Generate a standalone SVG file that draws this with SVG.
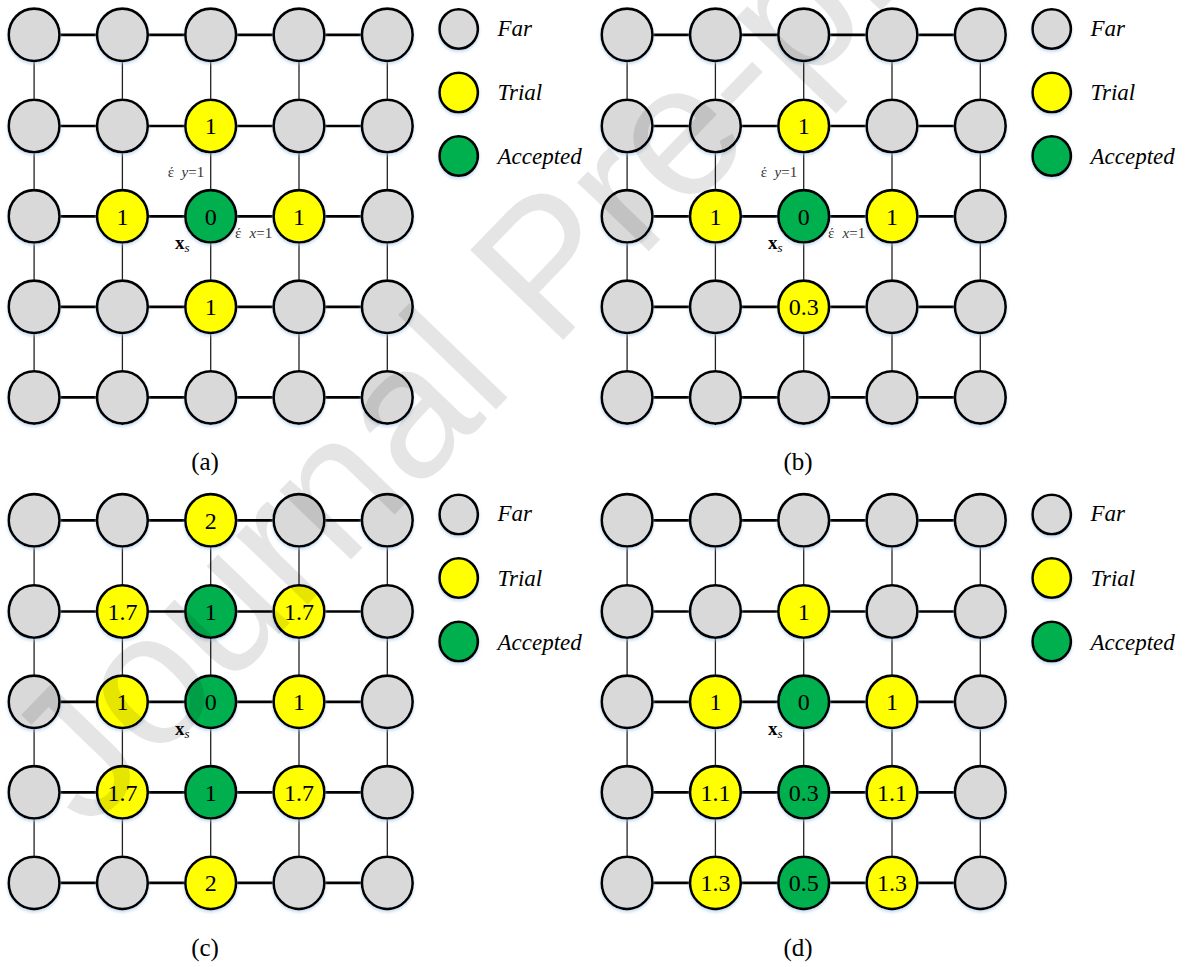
<svg xmlns="http://www.w3.org/2000/svg" width="1185" height="967" viewBox="0 0 1185 967">
<defs>
<filter id="sh" x="-30%" y="-30%" width="160%" height="170%">
<feDropShadow dx="0" dy="2" stdDeviation="1.5" flood-color="#9dc3e6" flood-opacity="0.55"/>
</filter>
<style>
ellipse{stroke:#000;stroke-width:2.6;filter:url(#sh)}
.far ellipse{fill:#d9d9d9}
.trial ellipse{fill:#ffff00}
.acc ellipse{fill:#00b050}
.lbl{font-family:"Liberation Serif","Times New Roman",serif;font-size:24px;text-anchor:middle;fill:#000}
.h{stroke:#000;stroke-width:2.7}
.v{stroke:#222;stroke-width:1.3}
.leg{font-family:"Liberation Serif","Times New Roman",serif;font-style:italic;font-size:23px;fill:#000}
.cap{font-family:"Liberation Serif","Times New Roman",serif;font-size:25px;text-anchor:middle;fill:#000}
.eps{font-family:"Liberation Serif","Times New Roman",serif;font-size:15px;fill:#333}
.xs{font-family:"Liberation Serif","Times New Roman",serif;font-size:19px;font-weight:bold;fill:#000}
.wm{font-family:"Liberation Sans",Arial,sans-serif;font-size:188px;fill:#000;fill-opacity:0.1}
</style>
</defs>
<rect width="1185" height="967" fill="#fff"/>

<g id="connectors">
<g transform="translate(0,0)">
<line class="h" x1="34.1" y1="34.8" x2="387.3" y2="34.8"/><line class="h" x1="34.1" y1="126" x2="387.3" y2="126"/><line class="h" x1="34.1" y1="216.3" x2="387.3" y2="216.3"/><line class="h" x1="34.1" y1="306.8" x2="387.3" y2="306.8"/><line class="h" x1="34.1" y1="397.4" x2="387.3" y2="397.4"/>
<line class="v" x1="34.1" y1="34.8" x2="34.1" y2="397.4"/><line class="v" x1="122.4" y1="34.8" x2="122.4" y2="397.4"/><line class="v" x1="210.7" y1="34.8" x2="210.7" y2="397.4"/><line class="v" x1="299" y1="34.8" x2="299" y2="397.4"/><line class="v" x1="387.3" y1="34.8" x2="387.3" y2="397.4"/>
</g>
<g transform="translate(593,0)">
<line class="h" x1="34.1" y1="34.8" x2="387.3" y2="34.8"/><line class="h" x1="34.1" y1="126" x2="387.3" y2="126"/><line class="h" x1="34.1" y1="216.3" x2="387.3" y2="216.3"/><line class="h" x1="34.1" y1="306.8" x2="387.3" y2="306.8"/><line class="h" x1="34.1" y1="397.4" x2="387.3" y2="397.4"/>
<line class="v" x1="34.1" y1="34.8" x2="34.1" y2="397.4"/><line class="v" x1="122.4" y1="34.8" x2="122.4" y2="397.4"/><line class="v" x1="210.7" y1="34.8" x2="210.7" y2="397.4"/><line class="v" x1="299" y1="34.8" x2="299" y2="397.4"/><line class="v" x1="387.3" y1="34.8" x2="387.3" y2="397.4"/>
</g>
<g transform="translate(0,485.5)">
<line class="h" x1="34.1" y1="34.8" x2="387.3" y2="34.8"/><line class="h" x1="34.1" y1="126" x2="387.3" y2="126"/><line class="h" x1="34.1" y1="216.3" x2="387.3" y2="216.3"/><line class="h" x1="34.1" y1="306.8" x2="387.3" y2="306.8"/><line class="h" x1="34.1" y1="397.4" x2="387.3" y2="397.4"/>
<line class="v" x1="34.1" y1="34.8" x2="34.1" y2="397.4"/><line class="v" x1="122.4" y1="34.8" x2="122.4" y2="397.4"/><line class="v" x1="210.7" y1="34.8" x2="210.7" y2="397.4"/><line class="v" x1="299" y1="34.8" x2="299" y2="397.4"/><line class="v" x1="387.3" y1="34.8" x2="387.3" y2="397.4"/>
</g>
<g transform="translate(593,485.5)">
<line class="h" x1="34.1" y1="34.8" x2="387.3" y2="34.8"/><line class="h" x1="34.1" y1="126" x2="387.3" y2="126"/><line class="h" x1="34.1" y1="216.3" x2="387.3" y2="216.3"/><line class="h" x1="34.1" y1="306.8" x2="387.3" y2="306.8"/><line class="h" x1="34.1" y1="397.4" x2="387.3" y2="397.4"/>
<line class="v" x1="34.1" y1="34.8" x2="34.1" y2="397.4"/><line class="v" x1="122.4" y1="34.8" x2="122.4" y2="397.4"/><line class="v" x1="210.7" y1="34.8" x2="210.7" y2="397.4"/><line class="v" x1="299" y1="34.8" x2="299" y2="397.4"/><line class="v" x1="387.3" y1="34.8" x2="387.3" y2="397.4"/>
</g>
</g>

<!-- Panel (a) -->
<g id="panel-a" transform="translate(0,0)">
<g id="a-r1c1" class="far"><ellipse cx="34.1" cy="34.8" rx="25.4" ry="26.2"/></g>
<g id="a-r1c2" class="far"><ellipse cx="122.4" cy="34.8" rx="25.4" ry="26.2"/></g>
<g id="a-r1c3" class="far"><ellipse cx="210.7" cy="34.8" rx="25.4" ry="26.2"/></g>
<g id="a-r1c4" class="far"><ellipse cx="299" cy="34.8" rx="25.4" ry="26.2"/></g>
<g id="a-r1c5" class="far"><ellipse cx="387.3" cy="34.8" rx="25.4" ry="26.2"/></g>
<g id="a-r2c1" class="far"><ellipse cx="34.1" cy="126" rx="25.4" ry="26.2"/></g>
<g id="a-r2c2" class="far"><ellipse cx="122.4" cy="126" rx="25.4" ry="26.2"/></g>
<g id="a-r2c3" class="trial"><ellipse cx="210.7" cy="126" rx="25.4" ry="26.2"/><text class="lbl" x="210.7" y="134.2">1</text></g>
<g id="a-r2c4" class="far"><ellipse cx="299" cy="126" rx="25.4" ry="26.2"/></g>
<g id="a-r2c5" class="far"><ellipse cx="387.3" cy="126" rx="25.4" ry="26.2"/></g>
<g id="a-r3c1" class="far"><ellipse cx="34.1" cy="216.3" rx="25.4" ry="26.2"/></g>
<g id="a-r3c2" class="trial"><ellipse cx="122.4" cy="216.3" rx="25.4" ry="26.2"/><text class="lbl" x="122.4" y="224.5">1</text></g>
<g id="a-r3c3" class="acc"><ellipse cx="210.7" cy="216.3" rx="25.4" ry="26.2"/><text class="lbl" x="210.7" y="224.5">0</text></g>
<g id="a-r3c4" class="trial"><ellipse cx="299" cy="216.3" rx="25.4" ry="26.2"/><text class="lbl" x="299" y="224.5">1</text></g>
<g id="a-r3c5" class="far"><ellipse cx="387.3" cy="216.3" rx="25.4" ry="26.2"/></g>
<g id="a-r4c1" class="far"><ellipse cx="34.1" cy="306.8" rx="25.4" ry="26.2"/></g>
<g id="a-r4c2" class="far"><ellipse cx="122.4" cy="306.8" rx="25.4" ry="26.2"/></g>
<g id="a-r4c3" class="trial"><ellipse cx="210.7" cy="306.8" rx="25.4" ry="26.2"/><text class="lbl" x="210.7" y="315">1</text></g>
<g id="a-r4c4" class="far"><ellipse cx="299" cy="306.8" rx="25.4" ry="26.2"/></g>
<g id="a-r4c5" class="far"><ellipse cx="387.3" cy="306.8" rx="25.4" ry="26.2"/></g>
<g id="a-r5c1" class="far"><ellipse cx="34.1" cy="397.4" rx="25.4" ry="26.2"/></g>
<g id="a-r5c2" class="far"><ellipse cx="122.4" cy="397.4" rx="25.4" ry="26.2"/></g>
<g id="a-r5c3" class="far"><ellipse cx="210.7" cy="397.4" rx="25.4" ry="26.2"/></g>
<g id="a-r5c4" class="far"><ellipse cx="299" cy="397.4" rx="25.4" ry="26.2"/></g>
<g id="a-r5c5" class="far"><ellipse cx="387.3" cy="397.4" rx="25.4" ry="26.2"/></g>
<text class="eps" x="167.7" y="176.7">έ<tspan x="181.5" font-style="italic">y</tspan>=1</text>
<text class="eps" x="235" y="238.3">έ<tspan x="249.5" font-style="italic">x</tspan>=1</text>
<text class="xs" x="175" y="249">x<tspan font-style="italic" font-weight="normal" font-size="13" dy="3">s</tspan></text>
<g id="a-leg-far" class="far"><ellipse cx="458.7" cy="29" rx="19.2" ry="19.8"/><text class="leg" x="497.5" y="35.7">Far</text></g>
<g id="a-leg-trial" class="trial"><ellipse cx="458.7" cy="92.5" rx="19.2" ry="19.8"/><text class="leg" x="497.5" y="100">Trial</text></g>
<g id="a-leg-acc" class="acc"><ellipse cx="458.7" cy="156" rx="19.2" ry="19.8"/><text class="leg" x="497.5" y="164">Accepted</text></g>
<text class="cap" x="205" y="470">(a)</text>
</g>

<!-- Panel (b) -->
<g id="panel-b" transform="translate(593,0)">
<g id="b-r1c1" class="far"><ellipse cx="34.1" cy="34.8" rx="25.4" ry="26.2"/></g>
<g id="b-r1c2" class="far"><ellipse cx="122.4" cy="34.8" rx="25.4" ry="26.2"/></g>
<g id="b-r1c3" class="far"><ellipse cx="210.7" cy="34.8" rx="25.4" ry="26.2"/></g>
<g id="b-r1c4" class="far"><ellipse cx="299" cy="34.8" rx="25.4" ry="26.2"/></g>
<g id="b-r1c5" class="far"><ellipse cx="387.3" cy="34.8" rx="25.4" ry="26.2"/></g>
<g id="b-r2c1" class="far"><ellipse cx="34.1" cy="126" rx="25.4" ry="26.2"/></g>
<g id="b-r2c2" class="far"><ellipse cx="122.4" cy="126" rx="25.4" ry="26.2"/></g>
<g id="b-r2c3" class="trial"><ellipse cx="210.7" cy="126" rx="25.4" ry="26.2"/><text class="lbl" x="210.7" y="134.2">1</text></g>
<g id="b-r2c4" class="far"><ellipse cx="299" cy="126" rx="25.4" ry="26.2"/></g>
<g id="b-r2c5" class="far"><ellipse cx="387.3" cy="126" rx="25.4" ry="26.2"/></g>
<g id="b-r3c1" class="far"><ellipse cx="34.1" cy="216.3" rx="25.4" ry="26.2"/></g>
<g id="b-r3c2" class="trial"><ellipse cx="122.4" cy="216.3" rx="25.4" ry="26.2"/><text class="lbl" x="122.4" y="224.5">1</text></g>
<g id="b-r3c3" class="acc"><ellipse cx="210.7" cy="216.3" rx="25.4" ry="26.2"/><text class="lbl" x="210.7" y="224.5">0</text></g>
<g id="b-r3c4" class="trial"><ellipse cx="299" cy="216.3" rx="25.4" ry="26.2"/><text class="lbl" x="299" y="224.5">1</text></g>
<g id="b-r3c5" class="far"><ellipse cx="387.3" cy="216.3" rx="25.4" ry="26.2"/></g>
<g id="b-r4c1" class="far"><ellipse cx="34.1" cy="306.8" rx="25.4" ry="26.2"/></g>
<g id="b-r4c2" class="far"><ellipse cx="122.4" cy="306.8" rx="25.4" ry="26.2"/></g>
<g id="b-r4c3" class="trial"><ellipse cx="210.7" cy="306.8" rx="25.4" ry="26.2"/><text class="lbl" x="210.7" y="315">0.3</text></g>
<g id="b-r4c4" class="far"><ellipse cx="299" cy="306.8" rx="25.4" ry="26.2"/></g>
<g id="b-r4c5" class="far"><ellipse cx="387.3" cy="306.8" rx="25.4" ry="26.2"/></g>
<g id="b-r5c1" class="far"><ellipse cx="34.1" cy="397.4" rx="25.4" ry="26.2"/></g>
<g id="b-r5c2" class="far"><ellipse cx="122.4" cy="397.4" rx="25.4" ry="26.2"/></g>
<g id="b-r5c3" class="far"><ellipse cx="210.7" cy="397.4" rx="25.4" ry="26.2"/></g>
<g id="b-r5c4" class="far"><ellipse cx="299" cy="397.4" rx="25.4" ry="26.2"/></g>
<g id="b-r5c5" class="far"><ellipse cx="387.3" cy="397.4" rx="25.4" ry="26.2"/></g>
<text class="eps" x="167.7" y="176.7">έ<tspan x="181.5" font-style="italic">y</tspan>=1</text>
<text class="eps" x="235" y="238.3">έ<tspan x="249.5" font-style="italic">x</tspan>=1</text>
<text class="xs" x="175" y="249">x<tspan font-style="italic" font-weight="normal" font-size="13" dy="3">s</tspan></text>
<g id="b-leg-far" class="far"><ellipse cx="458.7" cy="29" rx="19.2" ry="19.8"/><text class="leg" x="497.5" y="35.7">Far</text></g>
<g id="b-leg-trial" class="trial"><ellipse cx="458.7" cy="92.5" rx="19.2" ry="19.8"/><text class="leg" x="497.5" y="100">Trial</text></g>
<g id="b-leg-acc" class="acc"><ellipse cx="458.7" cy="156" rx="19.2" ry="19.8"/><text class="leg" x="497.5" y="164">Accepted</text></g>
<text class="cap" x="205" y="470">(b)</text>
</g>

<!-- Panel (c) -->
<g id="panel-c" transform="translate(0,485.5)">
<g id="c-r1c1" class="far"><ellipse cx="34.1" cy="34.8" rx="25.4" ry="26.2"/></g>
<g id="c-r1c2" class="far"><ellipse cx="122.4" cy="34.8" rx="25.4" ry="26.2"/></g>
<g id="c-r1c3" class="trial"><ellipse cx="210.7" cy="34.8" rx="25.4" ry="26.2"/><text class="lbl" x="210.7" y="43">2</text></g>
<g id="c-r1c4" class="far"><ellipse cx="299" cy="34.8" rx="25.4" ry="26.2"/></g>
<g id="c-r1c5" class="far"><ellipse cx="387.3" cy="34.8" rx="25.4" ry="26.2"/></g>
<g id="c-r2c1" class="far"><ellipse cx="34.1" cy="126" rx="25.4" ry="26.2"/></g>
<g id="c-r2c2" class="trial"><ellipse cx="122.4" cy="126" rx="25.4" ry="26.2"/><text class="lbl" x="122.4" y="134.2">1.7</text></g>
<g id="c-r2c3" class="acc"><ellipse cx="210.7" cy="126" rx="25.4" ry="26.2"/><text class="lbl" x="210.7" y="134.2">1</text></g>
<g id="c-r2c4" class="trial"><ellipse cx="299" cy="126" rx="25.4" ry="26.2"/><text class="lbl" x="299" y="134.2">1.7</text></g>
<g id="c-r2c5" class="far"><ellipse cx="387.3" cy="126" rx="25.4" ry="26.2"/></g>
<g id="c-r3c1" class="far"><ellipse cx="34.1" cy="216.3" rx="25.4" ry="26.2"/></g>
<g id="c-r3c2" class="trial"><ellipse cx="122.4" cy="216.3" rx="25.4" ry="26.2"/><text class="lbl" x="122.4" y="224.5">1</text></g>
<g id="c-r3c3" class="acc"><ellipse cx="210.7" cy="216.3" rx="25.4" ry="26.2"/><text class="lbl" x="210.7" y="224.5">0</text></g>
<g id="c-r3c4" class="trial"><ellipse cx="299" cy="216.3" rx="25.4" ry="26.2"/><text class="lbl" x="299" y="224.5">1</text></g>
<g id="c-r3c5" class="far"><ellipse cx="387.3" cy="216.3" rx="25.4" ry="26.2"/></g>
<g id="c-r4c1" class="far"><ellipse cx="34.1" cy="306.8" rx="25.4" ry="26.2"/></g>
<g id="c-r4c2" class="trial"><ellipse cx="122.4" cy="306.8" rx="25.4" ry="26.2"/><text class="lbl" x="122.4" y="315">1.7</text></g>
<g id="c-r4c3" class="acc"><ellipse cx="210.7" cy="306.8" rx="25.4" ry="26.2"/><text class="lbl" x="210.7" y="315">1</text></g>
<g id="c-r4c4" class="trial"><ellipse cx="299" cy="306.8" rx="25.4" ry="26.2"/><text class="lbl" x="299" y="315">1.7</text></g>
<g id="c-r4c5" class="far"><ellipse cx="387.3" cy="306.8" rx="25.4" ry="26.2"/></g>
<g id="c-r5c1" class="far"><ellipse cx="34.1" cy="397.4" rx="25.4" ry="26.2"/></g>
<g id="c-r5c2" class="far"><ellipse cx="122.4" cy="397.4" rx="25.4" ry="26.2"/></g>
<g id="c-r5c3" class="trial"><ellipse cx="210.7" cy="397.4" rx="25.4" ry="26.2"/><text class="lbl" x="210.7" y="405.6">2</text></g>
<g id="c-r5c4" class="far"><ellipse cx="299" cy="397.4" rx="25.4" ry="26.2"/></g>
<g id="c-r5c5" class="far"><ellipse cx="387.3" cy="397.4" rx="25.4" ry="26.2"/></g>
<text class="xs" x="175" y="249">x<tspan font-style="italic" font-weight="normal" font-size="13" dy="3">s</tspan></text>
<g id="c-leg-far" class="far"><ellipse cx="458.7" cy="29" rx="19.2" ry="19.8"/><text class="leg" x="497.5" y="35.7">Far</text></g>
<g id="c-leg-trial" class="trial"><ellipse cx="458.7" cy="92.5" rx="19.2" ry="19.8"/><text class="leg" x="497.5" y="100">Trial</text></g>
<g id="c-leg-acc" class="acc"><ellipse cx="458.7" cy="156" rx="19.2" ry="19.8"/><text class="leg" x="497.5" y="164">Accepted</text></g>
<text class="cap" x="205" y="470">(c)</text>
</g>

<!-- Panel (d) -->
<g id="panel-d" transform="translate(593,485.5)">
<g id="d-r1c1" class="far"><ellipse cx="34.1" cy="34.8" rx="25.4" ry="26.2"/></g>
<g id="d-r1c2" class="far"><ellipse cx="122.4" cy="34.8" rx="25.4" ry="26.2"/></g>
<g id="d-r1c3" class="far"><ellipse cx="210.7" cy="34.8" rx="25.4" ry="26.2"/></g>
<g id="d-r1c4" class="far"><ellipse cx="299" cy="34.8" rx="25.4" ry="26.2"/></g>
<g id="d-r1c5" class="far"><ellipse cx="387.3" cy="34.8" rx="25.4" ry="26.2"/></g>
<g id="d-r2c1" class="far"><ellipse cx="34.1" cy="126" rx="25.4" ry="26.2"/></g>
<g id="d-r2c2" class="far"><ellipse cx="122.4" cy="126" rx="25.4" ry="26.2"/></g>
<g id="d-r2c3" class="trial"><ellipse cx="210.7" cy="126" rx="25.4" ry="26.2"/><text class="lbl" x="210.7" y="134.2">1</text></g>
<g id="d-r2c4" class="far"><ellipse cx="299" cy="126" rx="25.4" ry="26.2"/></g>
<g id="d-r2c5" class="far"><ellipse cx="387.3" cy="126" rx="25.4" ry="26.2"/></g>
<g id="d-r3c1" class="far"><ellipse cx="34.1" cy="216.3" rx="25.4" ry="26.2"/></g>
<g id="d-r3c2" class="trial"><ellipse cx="122.4" cy="216.3" rx="25.4" ry="26.2"/><text class="lbl" x="122.4" y="224.5">1</text></g>
<g id="d-r3c3" class="acc"><ellipse cx="210.7" cy="216.3" rx="25.4" ry="26.2"/><text class="lbl" x="210.7" y="224.5">0</text></g>
<g id="d-r3c4" class="trial"><ellipse cx="299" cy="216.3" rx="25.4" ry="26.2"/><text class="lbl" x="299" y="224.5">1</text></g>
<g id="d-r3c5" class="far"><ellipse cx="387.3" cy="216.3" rx="25.4" ry="26.2"/></g>
<g id="d-r4c1" class="far"><ellipse cx="34.1" cy="306.8" rx="25.4" ry="26.2"/></g>
<g id="d-r4c2" class="trial"><ellipse cx="122.4" cy="306.8" rx="25.4" ry="26.2"/><text class="lbl" x="122.4" y="315">1.1</text></g>
<g id="d-r4c3" class="acc"><ellipse cx="210.7" cy="306.8" rx="25.4" ry="26.2"/><text class="lbl" x="210.7" y="315">0.3</text></g>
<g id="d-r4c4" class="trial"><ellipse cx="299" cy="306.8" rx="25.4" ry="26.2"/><text class="lbl" x="299" y="315">1.1</text></g>
<g id="d-r4c5" class="far"><ellipse cx="387.3" cy="306.8" rx="25.4" ry="26.2"/></g>
<g id="d-r5c1" class="far"><ellipse cx="34.1" cy="397.4" rx="25.4" ry="26.2"/></g>
<g id="d-r5c2" class="trial"><ellipse cx="122.4" cy="397.4" rx="25.4" ry="26.2"/><text class="lbl" x="122.4" y="405.6">1.3</text></g>
<g id="d-r5c3" class="acc"><ellipse cx="210.7" cy="397.4" rx="25.4" ry="26.2"/><text class="lbl" x="210.7" y="405.6">0.5</text></g>
<g id="d-r5c4" class="trial"><ellipse cx="299" cy="397.4" rx="25.4" ry="26.2"/><text class="lbl" x="299" y="405.6">1.3</text></g>
<g id="d-r5c5" class="far"><ellipse cx="387.3" cy="397.4" rx="25.4" ry="26.2"/></g>
<text class="xs" x="175" y="249">x<tspan font-style="italic" font-weight="normal" font-size="13" dy="3">s</tspan></text>
<g id="d-leg-far" class="far"><ellipse cx="458.7" cy="29" rx="19.2" ry="19.8"/><text class="leg" x="497.5" y="35.7">Far</text></g>
<g id="d-leg-trial" class="trial"><ellipse cx="458.7" cy="92.5" rx="19.2" ry="19.8"/><text class="leg" x="497.5" y="100">Trial</text></g>
<g id="d-leg-acc" class="acc"><ellipse cx="458.7" cy="156" rx="19.2" ry="19.8"/><text class="leg" x="497.5" y="164">Accepted</text></g>
<text class="cap" x="205" y="470">(d)</text>
</g>

<text class="wm" transform="translate(88,832) rotate(-46)">Journal Pre-proof</text>
</svg>
